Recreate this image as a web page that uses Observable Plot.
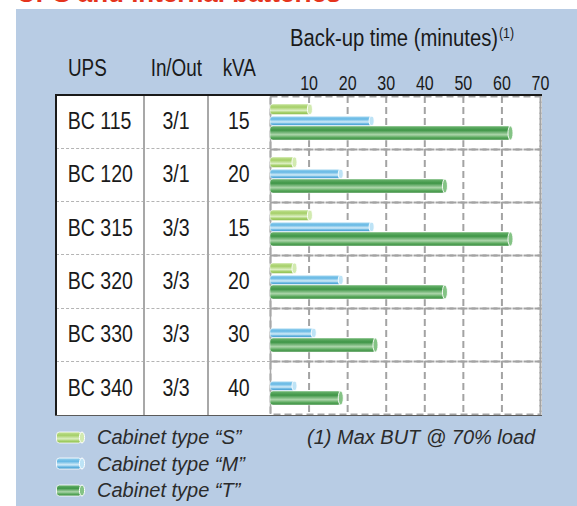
<!DOCTYPE html>
<html>
<head>
<meta charset="utf-8">
<script src="https://cdn.jsdelivr.net/npm/d3@7"></script>
<script src="https://cdn.jsdelivr.net/npm/@observablehq/plot@0.6"></script>
<style>
  html, body { margin: 0; padding: 0; background: #fff; }
  body { width: 577px; height: 506px; position: relative; overflow: hidden; font-family: "Liberation Sans", Arial, sans-serif; color: #1a1a1a; }
  .abs { position: absolute; }
  #title { left: 17px; top: -20.5px; font: bold 26px/26px "Liberation Sans", Arial, sans-serif; color: #e5341c; white-space: nowrap; }
  #panel { left: 16px; top: 9px; width: 561px; height: 497px; background: #b8cce4; }
  #white { left: 56px; top: 95px; width: 486px; height: 321px; background: #fff; }
  .hdr { font-size: 23px; line-height: 23px; white-space: nowrap; }
  .narrow { display: inline-block; transform: scaleX(0.82); }
  .cell { display: flex; align-items: center; justify-content: center; font-size: 23px; white-space: nowrap; box-sizing: border-box; }
  .rowsep { height: 0; border-top: 1.5px dashed #b4b4b4; }
  .colline { width: 1.5px; background: #a8a8a8; }
  .leg { font: italic 20px/26.5px "Liberation Sans", Arial, sans-serif; color: #2b2b2b; white-space: nowrap; }
</style>
</head>
<body>
<script>
// ---- data ----
const ups = ["BC 115", "BC 120", "BC 315", "BC 320", "BC 330", "BC 340"];
const inOut = ["3/1", "3/1", "3/3", "3/3", "3/3", "3/3"];
const kva = [15, 20, 15, 20, 30, 40];
const cabinetS = [11, 7, 11, 7, null, null];
const cabinetM = [27, 19, 27, 19, 12, 7];
const cabinetT = [63, 46, 63, 46, 28, 19];
const types = ["S", "M", "T"];
const typeLabels = ["Cabinet type \u201cS\u201d", "Cabinet type \u201cM\u201d", "Cabinet type \u201cT\u201d"];
const xTicks = [10, 20, 30, 40, 50, 60, 70];
const columnHeaders = ["UPS", "In/Out", "kVA"];
const axisTitle = "Back-up time (minutes)";
const axisNote = "(1)";
const footnote = "(1) Max BUT @ 70% load";
const titleText = "UPS and internal batteries";

// ---- build data table ----
const series = {S: cabinetS, M: cabinetM, T: cabinetT};
const bars = [];
ups.forEach((u, i) => types.forEach(t => { if (series[t][i] != null) bars.push({ups: u, type: t, value: series[t][i]}); }));

const body = document.body;
function el(tag, cls, style, text) {
  const e = document.createElement(tag);
  if (cls) e.className = cls;
  Object.assign(e.style, style || {});
  if (text != null) e.textContent = text;
  body.appendChild(e);
  return e;
}
function narrowText(parent, text, origin, scale) {
  const s = document.createElement("span");
  s.className = "narrow";
  s.textContent = text;
  s.style.transformOrigin = origin || "center";
  if (scale) s.style.transform = `scaleX(${scale})`;
  parent.appendChild(s);
  return s;
}

el("div", "abs", {}, titleText).id = "title";
el("div", "abs", {}).id = "panel";
el("div", "abs", {}).id = "white";

// header texts
narrowText(el("div", "abs hdr", {left: "68px", top: "57px"}), columnHeaders[0], "left");
narrowText(el("div", "abs hdr", {left: "144px", width: "64px", textAlign: "center", top: "57px"}), columnHeaders[1]);
narrowText(el("div", "abs hdr", {left: "208px", width: "62px", textAlign: "center", top: "57px"}), columnHeaders[2]);
const at = el("div", "abs hdr", {left: "290px", top: "27px", fontSize: "23px", lineHeight: "23px"});
const atSpan = narrowText(at, axisTitle, "left", 0.88);
const sup = document.createElement("span");
sup.textContent = axisNote;
Object.assign(sup.style, {fontSize: "14px", position: "relative", top: "-8px", marginLeft: "1px"});
atSpan.appendChild(sup);

// table cells
const rowTop = 95, rowH = 320 / ups.length;
const cols = [{left: 56, w: 88}, {left: 144, w: 64}, {left: 208, w: 62}];
ups.forEach((u, i) => {
  const vals = [u, inOut[i], String(kva[i])];
  vals.forEach((v, j) => {
    const c = el("div", "abs cell", {left: cols[j].left + "px", width: cols[j].w + "px", top: (rowTop + i * rowH) + "px", height: rowH + "px"});
    narrowText(c, v, "center", 0.85);
  });
  if (i > 0) el("div", "abs rowsep", {left: "56px", width: "214px", top: (rowTop + i * rowH - 0.75) + "px"});
});
[144, 208].forEach(x => el("div", "abs colline", {left: (x - 0.75) + "px", top: "95px", height: "320px"}));

// ---- chart ----
const insets = {S: [0, 1.5], M: [0.3, 2.5], T: [-2, 0]};
const capFill = {S: "#d2eab0", M: "#bde3f6", T: "#84c385"};
const barMarks = [];
types.forEach(t => {
  const d = bars.filter(b => b.type === t);
  barMarks.push(Plot.barX(d, {
    x1: 0, x2: b => b.value - 0.6, y: "type", fy: "ups",
    fill: `url(#grad${t})`, stroke: "#ffffff", strokeOpacity: 0.6, strokeWidth: 0.8,
    insetTop: insets[t][0], insetBottom: insets[t][1], rx: 3
  }));
  barMarks.push(Plot.barX(d, {
    x1: b => b.value - 1.3, x2: "value", y: "type", fy: "ups",
    fill: capFill[t], stroke: "#ffffff", strokeWidth: 0.9,
    insetTop: insets[t][0], insetBottom: insets[t][1], rx: 10, ry: 10
  }));
});

const chart = Plot.plot({
  width: 305,
  height: 359,
  marginLeft: 10,
  marginRight: 25,
  marginTop: 35,
  marginBottom: 4,
  style: {background: "transparent", fontFamily: "'Liberation Sans', Arial, sans-serif", fontSize: "20px", color: "#1a1a1a", overflow: "visible"},
  x: {domain: [0, 70]},
  y: {domain: types, padding: 0, insetTop: 7, insetBottom: 8.33, axis: null},
  fy: {domain: ups, padding: 0, axis: null},
  marks: [
    Plot.frame({stroke: "#a3a3a3", strokeWidth: 2, strokeDasharray: "7,4"}),
    Plot.gridX({ticks: xTicks, stroke: "#a3a3a3", strokeOpacity: 1, strokeWidth: 2, strokeDasharray: "7,4"}),
    Plot.ruleX([0], {stroke: "#a8a8a8", strokeWidth: 1.5}),
    ...barMarks,
    Plot.axisX({anchor: "top", ticks: xTicks, tickSize: 0, tickPadding: 7, fontSize: 20, label: null})
  ]
});
chart.classList.add("abs");
Object.assign(chart.style, {left: "260px", top: "60px", position: "absolute"});

// condensed look for tick labels
d3.select(chart).selectAll("g[aria-label='x-axis tick label'] text").each(function() {
  const t = d3.select(this);
  const tr = t.attr("transform") || "";
  t.attr("transform", tr + " scale(0.8,1)");
});

// gradients for cylinder look
const defs = d3.select(chart).insert("defs", ":first-child");
const grads = {
  S: [[0, "#c4e397"], [0.3, "#a5cf68"], [0.62, "#dbeec0"], [0.82, "#a2ce66"], [1, "#8dbd52"]],
  M: [[0, "#9fd5f0"], [0.3, "#63b7e4"], [0.62, "#d2ebf8"], [0.82, "#62b3e0"], [1, "#4399cc"]],
  T: [[0, "#6fb672"], [0.3, "#3e9546"], [0.62, "#acd5aa"], [0.82, "#5aa95d"], [1, "#3a8b40"]]
};
Object.entries(grads).forEach(([k, stops]) => {
  const g = defs.append("linearGradient").attr("id", "grad" + k).attr("x1", 0).attr("y1", 0).attr("x2", 0).attr("y2", 1);
  stops.forEach(([o, c]) => g.append("stop").attr("offset", o).attr("stop-color", c));
});
body.appendChild(chart);

// borders
el("div", "abs", {left: "55px", top: "94px", width: "487px", height: "2px", background: "#1a1a1a"});
el("div", "abs", {left: "55px", top: "94px", width: "2px", height: "322px", background: "#1a1a1a"});
el("div", "abs", {left: "55px", top: "414.5px", width: "487px", height: "1.5px", background: "#5a5a5a"});

// legend
types.forEach((t, i) => {
  const top = 424 + i * 26.5;
  const s = document.createElementNS("http://www.w3.org/2000/svg", "svg");
  s.setAttribute("width", 32); s.setAttribute("height", 14);
  Object.assign(s.style, {position: "absolute", left: "55px", top: (top + 6.5) + "px"});
  s.innerHTML = `<rect x="1.5" y="1" width="25" height="11" rx="3" fill="url(#grad${t})" stroke="#fff" stroke-opacity="0.8" stroke-width="1"/>` +
    `<ellipse cx="27" cy="6.5" rx="2.6" ry="5.5" fill="${capFill[t]}" stroke="#fff" stroke-width="1"/>`;
  body.appendChild(s);
  el("div", "abs leg", {left: "97px", top: top + "px"}, typeLabels[i]);
});
el("div", "abs leg", {left: "307px", top: "424px"}, footnote);
</script>
</body>
</html>
